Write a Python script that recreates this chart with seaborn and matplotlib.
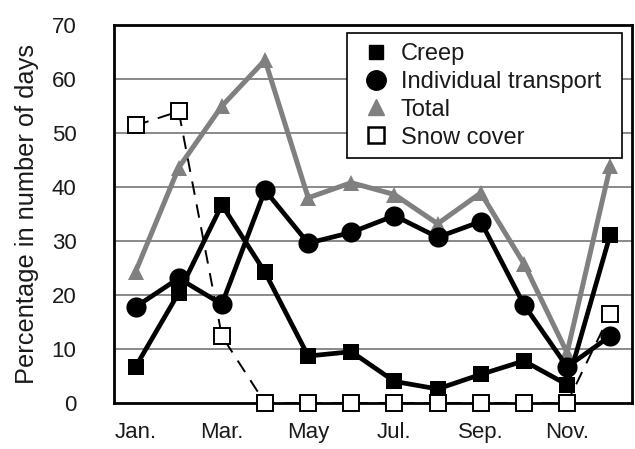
import matplotlib
matplotlib.use("Agg")
import matplotlib.pyplot as plt
from matplotlib.lines import Line2D
import seaborn as sns
import pandas as pd

# Monthly shares (% of days) per process
months = ["Jan.", "Feb.", "Mar.", "Apr.", "May", "Jun.",
          "Jul.", "Aug.", "Sep.", "Oct.", "Nov.", "Dec."]
creep = [6.7, 20.4, 36.7, 24.2, 8.7, 9.5, 4.0, 2.6, 5.3, 7.8, 3.4, 31.2]
individual_transport = [17.8, 23.1, 18.3, 39.4, 29.6, 31.6, 34.7, 30.7, 33.6, 18.2, 6.7, 12.4]
total = [24.3, 43.6, 55.0, 63.5, 38.0, 40.8, 38.6, 33.2, 38.9, 25.8, 9.3, 43.8]
snow_cover = [51.4, 54.0, 12.4, 0.0, 0.0, 0.0, 0.0, 0.0, 0.0, 0.0, 0.0, 16.5]

yticks = [0, 10, 20, 30, 40, 50, 60, 70]
xtick_months = ["Jan.", "Mar.", "May", "Jul.", "Sep.", "Nov."]

df = pd.DataFrame({
    "pos": range(len(months)),
    "month": months,
    "Creep": creep,
    "Individual transport": individual_transport,
    "Total": total,
    "Snow cover": snow_cover,
})

sns.set_theme(style="white")
plt.rcParams["font.family"] = ["Liberation Sans", "DejaVu Sans"]

fig = plt.figure(figsize=(6.35, 4.49), dpi=100)
ax = fig.add_axes([0.1795, 0.1024, 0.8155, 0.8419])

grey = "#808080"

sns.lineplot(data=df, x="pos", y="Total", ax=ax, color=grey, linewidth=3.6,
             marker="^", markersize=12, markeredgewidth=0, zorder=3)
sns.lineplot(data=df, x="pos", y="Creep", ax=ax, color="black", linewidth=3.4,
             marker="s", markersize=12, markeredgewidth=0, zorder=4)
sns.lineplot(data=df, x="pos", y="Individual transport", ax=ax, color="black",
             linewidth=3.4, marker="o", markersize=14.5, markeredgewidth=0, zorder=5)
sns.lineplot(data=df, x="pos", y="Snow cover", ax=ax, color="black", linewidth=1.4,
             linestyle=(0, (7, 5)), marker="s", markersize=12,
             markerfacecolor="white", markeredgecolor="black",
             markeredgewidth=1.4, zorder=6, clip_on=False)

ax.set_xlim(-0.5, len(months) - 0.5)
ax.set_ylim(0, 70)
ax.set_yticks(yticks)
ax.set_yticklabels([str(v) for v in yticks])
ax.set_xticks([months.index(m) for m in xtick_months])
ax.set_xticklabels(xtick_months)
ax.tick_params(axis="both", length=0, labelsize=16, colors="#1a1a1a")
ax.tick_params(axis="y", pad=27)
ax.tick_params(axis="x", pad=14)

for y in yticks[1:-1]:
    ax.axhline(y, color=grey, linewidth=1.3, zorder=1)

for sp in ax.spines.values():
    sp.set_visible(True)
    sp.set_color("black")
    sp.set_linewidth(2.0)

ax.set_xlabel("")
ax.set_ylabel("Percentage in number of days", fontsize=18.3, color="#1a1a1a", labelpad=9)

handles = [
    Line2D([], [], linestyle="none", marker="s", markersize=10, color="black"),
    Line2D([], [], linestyle="none", marker="o", markersize=14, color="black"),
    Line2D([], [], linestyle="none", marker="^", markersize=11.5, color=grey),
    Line2D([], [], linestyle="none", marker="s", markersize=11,
           markerfacecolor="white", markeredgecolor="black", markeredgewidth=1.8),
]
labels = ["Creep", "Individual transport", "Total", "Snow cover"]
leg = ax.legend(handles, labels, loc="upper left",
                bbox_to_anchor=(0.45, 0.664, 0.531, 0.315), mode="expand",
                borderaxespad=0, fontsize=17, frameon=True, fancybox=False,
                handlelength=1.65, handletextpad=0.2, labelspacing=0.25,
                borderpad=0.42, framealpha=1)
leg.get_frame().set_edgecolor("black")
leg.get_frame().set_linewidth(1.2)
leg.set_zorder(10)
for t in leg.get_texts():
    t.set_color("#1a1a1a")

fig.savefig("out.png", dpi=100)
